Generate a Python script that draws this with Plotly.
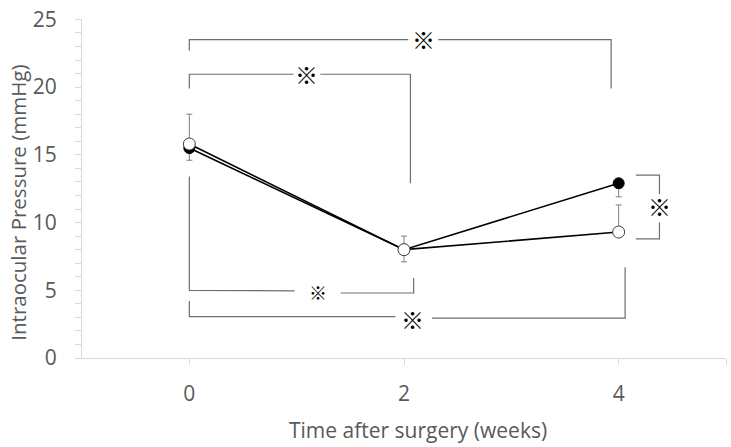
import plotly.graph_objects as go

# ---- data ----
weeks = [0, 2, 4]
iop_filled = [15.5, 8.0, 12.9]
err_filled_minus = [0.9, 0.9, 1.0]
iop_open = [15.8, 8.0, 9.3]
err_open_plus = [2.2, 1.0, 2.0]
x_tick_vals = [0, 2, 4, 5]
x_tick_text = ["0", "2", "4", ""]
y_tick_vals = [0, 5, 10, 15, 20, 25]
x_title = "Time after surgery (weeks)"
y_title = "Intraocular Pressure (mmHg)"
sig_mark = "※"

# significance brackets (data coordinates): list of polyline segments
brackets = [
    [[(0, 22.7), (0, 23.5), (2.04, 23.5)], [(2.32, 23.5), (3.93, 23.5), (3.93, 19.9)]],
    [[(0, 19.9), (0, 20.95), (0.97, 20.95)], [(1.22, 20.95), (2.06, 20.95), (2.06, 12.9)]],
    [[(0, 13.4), (0, 5.0), (0.98, 4.95)], [(1.41, 4.8), (2.09, 4.8), (2.09, 5.9)]],
    [[(0, 4.2), (0, 3.05), (1.92, 3.05)], [(2.26, 2.95), (4.06, 2.95), (4.06, 6.7)]],
    [[(4.16, 13.5), (4.38, 13.5), (4.38, 12.1)], [(4.38, 10.0), (4.38, 8.8), (4.16, 8.8)]],
]
marks = [(2.18, 23.55, 23), (1.09, 21.0, 23), (1.2, 4.9, 18), (2.08, 2.9, 23), (4.38, 11.25, 23)]

GRAY_AXIS = "#d9d9d9"
TEXT = "#595959"
BRACKET = "#6e6e6e"

fig = go.Figure()

fig.add_trace(go.Scatter(
    x=weeks, y=iop_filled, mode="lines+markers",
    line=dict(color="black", width=1.6),
    marker=dict(size=11, color="black", line=dict(color="black", width=1)),
    error_y=dict(type="data", symmetric=False, array=[0, 0, 0], arrayminus=err_filled_minus,
                 color="#7f7f7f", thickness=1, width=3),
    hoverinfo="skip", showlegend=False,
))
fig.add_trace(go.Scatter(
    x=weeks, y=iop_open, mode="lines+markers",
    line=dict(color="black", width=1.6),
    marker=dict(size=12, color="white", line=dict(color="#404040", width=1)),
    error_y=dict(type="data", symmetric=False, array=err_open_plus, arrayminus=[0, 0, 0],
                 color="#7f7f7f", thickness=1, width=3),
    hoverinfo="skip", showlegend=False,
))

shapes = []
for br in brackets:
    for seg in br:
        path = "M " + " L ".join(f"{x},{y}" for x, y in seg)
        shapes.append(dict(type="path", path=path, xref="x", yref="y",
                           line=dict(color=BRACKET, width=1.2), layer="below"))

annotations = []
for x, y, s in marks:
    annotations.append(dict(x=x, y=y, xref="x", yref="y", text=sig_mark, showarrow=False,
                            font=dict(family="Noto Sans CJK JP", size=s, color="black")))
annotations.append(dict(x=0.5217, y=-0.211, xref="paper", yref="paper", text=x_title,
                        showarrow=False, xanchor="center", yanchor="middle",
                        font=dict(family="Open Sans", size=21, color=TEXT)))
annotations.append(dict(x=-0.0994, y=0.458, xref="paper", yref="paper", text=y_title,
                        showarrow=False, xanchor="center", yanchor="middle", textangle=-90,
                        font=dict(family="Open Sans", size=20.5, color=TEXT)))

fig.update_layout(
    width=731, height=447,
    margin=dict(l=82, r=5, t=12, b=89),
    paper_bgcolor="white", plot_bgcolor="white",
    font=dict(family="Open Sans", color=TEXT),
    shapes=shapes, annotations=annotations,
    xaxis=dict(range=[-1, 5], tickvals=x_tick_vals, ticktext=x_tick_text,
               showgrid=False, zeroline=False, showline=True, linecolor=GRAY_AXIS, linewidth=1,
               ticks="outside", ticklen=6, tickcolor=GRAY_AXIS,
               tickfont=dict(size=21, color=TEXT), ticklabelstandoff=11),
    yaxis=dict(range=[0, 25.03], tickvals=y_tick_vals, showgrid=False, zeroline=False,
               showline=True, linecolor=GRAY_AXIS, linewidth=1,
               ticks="outside", ticklen=6, tickcolor=GRAY_AXIS,
               minor=dict(dtick=1, ticks="outside", ticklen=6, tickcolor=GRAY_AXIS, showgrid=False),
               tickfont=dict(size=21, color=TEXT), ticklabelstandoff=14,
               ticklabeloverflow="allow"),
)

fig.write_html("out.html", config={"displayModeBar": False},
               post_script="document.body.style.margin='0px';")
